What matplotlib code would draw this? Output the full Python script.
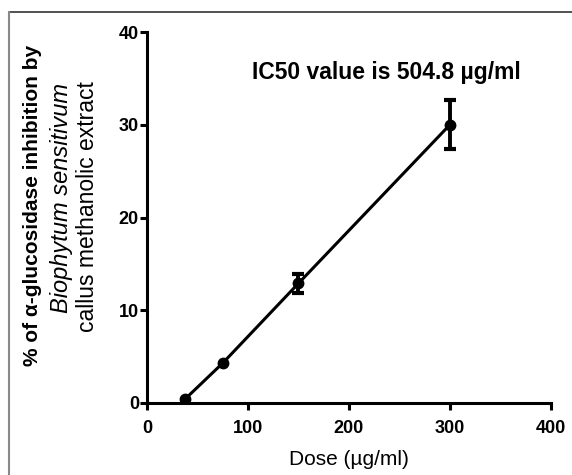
import matplotlib
matplotlib.use('Agg')
import matplotlib.pyplot as plt
from matplotlib.lines import Line2D

plt.rcParams['font.family'] = ['Liberation Sans', 'DejaVu Sans']

# data
dose = [37.5, 75, 150, 300]
inhibition = [0.4, 4.3, 12.9, 30.0]
err = [0.0, 0.0, 1.0, 2.65]
xticks = [0, 100, 200, 300, 400]
yticks = [0, 10, 20, 30, 40]

fig = plt.figure(figsize=(5.72, 4.75), dpi=100)
fig.set_facecolor('white')
ax = fig.add_axes([0.257, 0.1516, 0.706, 0.781])

ax.plot(dose, inhibition, color='black', lw=2.2, marker='o', ms=7.5)
# error bars only where there is a visible error
ex = [d for d, e in zip(dose, err) if e > 0]
ey = [v for v, e in zip(inhibition, err) if e > 0]
ee = [e for e in err if e > 0]
ax.errorbar(ex, ey, yerr=ee, fmt='none', ecolor='black',
            capsize=4.5, capthick=3, elinewidth=2.8)

ax.set_xlim(0, 400)
ax.set_ylim(0, 40)
ax.set_xticks(xticks)
ax.set_yticks(yticks)
ax.spines['right'].set_color('none')
ax.spines['top'].set_color('none')
for s in ['left', 'bottom']:
    ax.spines[s].set_linewidth(2.2)
ax.tick_params(width=2.2, length=5, labelsize=13)
ax.tick_params(axis='x', pad=7.5)
ax.tick_params(axis='y', pad=0.8)
for lab in ax.get_xticklabels() + ax.get_yticklabels():
    lab.set_fontweight('bold')

ax.text(237, 35.6, 'IC50 value is 504.8 µg/ml', fontsize=16.5,
        fontweight='bold', ha='center', va='center')
ax.set_xlabel('Dose (µg/ml)', fontsize=15, labelpad=9)

# three-line y label, each line styled differently
fig.text(33 / 572, 1 - 205 / 475, '% of α-glucosidase inhibition by',
         rotation=90, ha='center', va='center', fontsize=15, fontweight='bold')
fig.text(62 / 572, 1 - 198 / 475, 'Biophytum sensitivum',
         rotation=90, ha='center', va='center', fontsize=17, style='italic')
fig.text(87 / 572, 1 - 207 / 475, 'callus methanolic extract',
         rotation=90, ha='center', va='center', fontsize=16.5)

# thin frame on top and left edges
fig.add_artist(Line2D([9 / 572, 1], [1 - 12 / 475] * 2, color='#333333', lw=1.2))
fig.add_artist(Line2D([9 / 572] * 2, [0, 1 - 12 / 475], color='#888888', lw=1.5))

fig.savefig('out.png', dpi=100, facecolor='white')
